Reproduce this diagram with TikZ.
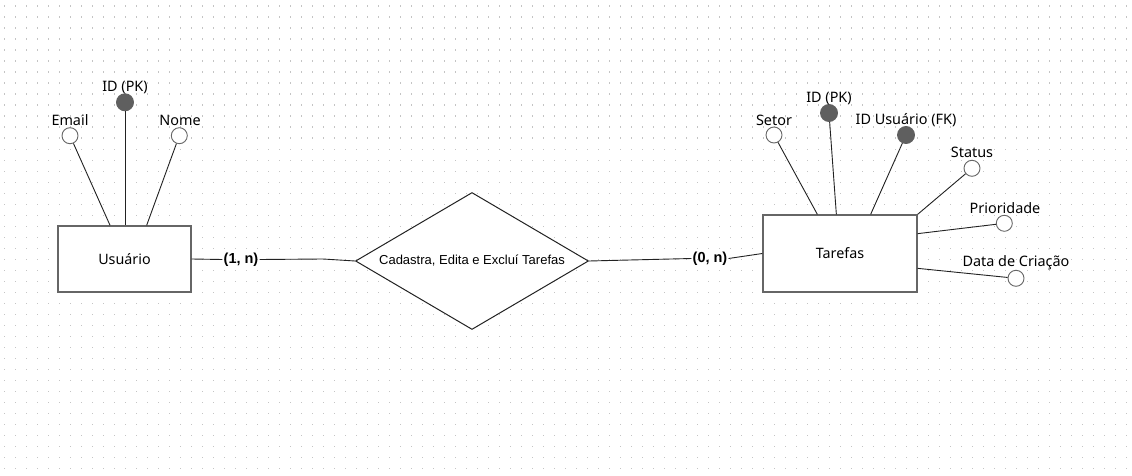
\documentclass[tikz,border=0pt]{standalone}
\usepackage{fontspec}
\setmainfont{Noto Sans}
\newfontfamily\arialfont{Liberation Sans}
\usetikzlibrary{shapes.geometric,calc}
\definecolor{gridc}{HTML}{C4C4C4}
\definecolor{edgec}{HTML}{666666}
\definecolor{keyc}{HTML}{5F5F5F}
\definecolor{linec}{HTML}{222222}
\tikzset{
  entity/.style={draw=edgec,line width=1.3pt,fill=white,minimum width=133pt,minimum height=66pt,inner sep=0pt,font=\fontsize{14.3}{16}\selectfont},
  relation/.style={draw=linec,line width=1pt,fill=white,diamond,aspect=1.7,minimum width=233pt,minimum height=137pt,inner sep=0pt,font=\arialfont\fontsize{13}{15}\selectfont},
  attr/.style={circle,draw=edgec,line width=0.9pt,fill=white,minimum size=16pt,inner sep=0pt},
  keyattr/.style={circle,draw=keyc,line width=0.9pt,fill=keyc,minimum size=17pt,inner sep=0pt},
  alabel/.style={inner sep=0pt,font=\fontsize{14.4}{16}\selectfont},
  card/.style={inner sep=1pt,font=\arialfont\bfseries\fontsize{14.5}{16}\selectfont},
  link/.style={draw=linec,line width=0.9pt},
}
\begin{document}
\begin{tikzpicture}[x=1pt,y=-1pt]
\useasboundingbox[fill=white] (0,0) rectangle (1132,476);
% dotted canvas grid
\foreach \i in {0,...,102}{
  \foreach \j in {0,...,42}{
    \fill[gridc] ({4.2+11*\i},{5.5+11*\j}) rectangle +(1.1,1.1);
  }
}

% entities and relationship
\node[entity] (usr) at (124.5,259) {Usuário};
\node[entity,minimum width=154pt,minimum height=77pt] (tar) at (840,253.5) {Tarefas};
\node[relation] (rel) at (472,261) {Cadastra, Edita e Excluí Tarefas};

% attributes of Usuário
\node[attr] (uemail) at (70,135.7) {};
\node[keyattr] (uid) at (125,102.3) {};
\node[attr] (unome) at (179.3,135.7) {};
\node[alabel] (luemail) at (70,120) {Email};
\node[alabel] (luid) at (125,87) {ID (PK)};
\node[alabel] (lunome) at (180,120) {Nome};
\coordinate (uE) at ($(usr.north west)+(52.7,0)$);
\coordinate (uN) at ($(usr.north west)+(89.3,0)$);
\draw[link] (uemail) -- (uE);
\draw[link] (uid) -- (uid |- usr.north);
\draw[link] (unome) -- (uN);

% attributes of Tarefas
\node[attr] (tsetor) at (774,135) {};
\node[keyattr] (tid) at (829,113) {};
\node[keyattr] (tfk) at (906,135) {};
\node[attr] (tstatus) at (972,168.3) {};
\node[attr] (tprio) at (1004.3,223.3) {};
\node[attr] (tdata) at (1016,278.3) {};
\node[alabel] (ltsetor) at (774,120) {Setor};
\node[alabel] (ltid) at (829,98.3) {ID (PK)};
\node[alabel] (ltfk) at (906,120) {ID Usuário (FK)};
\node[alabel] (ltstatus) at (972,152.7) {Status};
\node[alabel] (ltprio) at (1005,207.7) {Prioridade};
\node[alabel] (ltdata) at (1016,262.7) {Data de Criação};
\coordinate (tS) at ($(tar.north west)+(55,0)$);
\coordinate (tI) at ($(tar.north west)+(74,0)$);
\coordinate (tF) at ($(tar.north west)+(108.3,0)$);
\coordinate (tP) at ($(tar.north east)+(0,19.3)$);
\coordinate (tD) at ($(tar.north east)+(0,54)$);
\draw[link] (tsetor) -- (tS);
\draw[link] (tid) -- (tI);
\draw[link] (tfk) -- (tF);
\draw[link] (tstatus) -- (tar.north east);
\draw[link] (tprio) -- (tP);
\draw[link] (tdata) -- (tD);

% relationship connectors with cardinalities
\node[card] (c1) at (241,259.5) {(1, n)};
\node[card] (c2) at (710,258.5) {(0, n)};
\coordinate (bend1) at (323,259);
\draw[link] (usr.east) -- (c1.west);
\draw[link] (c1.east) -- (bend1) -- (rel.west);
\draw[link] (rel.east) -- (c2.west);
\draw[link] (c2.east) -- (tar.west);
\end{tikzpicture}
\end{document}
